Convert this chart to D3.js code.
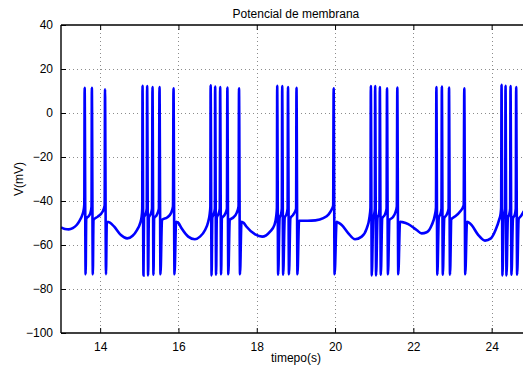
<!DOCTYPE html>
<html>
<head>
<meta charset="utf-8">
<script src="https://cdn.jsdelivr.net/npm/d3@7"></script>
<style>
  html, body { margin: 0; padding: 0; background: #fff; }
  svg { display: block; }
  text { font-family: "Liberation Sans", Arial, Helvetica, sans-serif; fill: #000; }
</style>
</head>
<body>
<svg id="chart" width="523" height="369"></svg>
<script>
// Membrane potential trace (mV) against time (s)

// Spike peak times (s), peak voltage and trough voltage (mV)
const spikeTimes = [
  13.604, 13.788, 14.124,
  15.082, 15.200, 15.337, 15.516, 15.874,
  16.822, 16.937, 17.065, 17.249, 17.547,
  18.522, 18.650, 18.798, 19.015,
  19.964,
  20.914, 21.024, 21.144, 21.327, 21.590,
  22.588, 22.728, 22.911, 23.301,
  24.252, 24.354, 24.482, 24.626
];
const spikePeaks = [
  11.5, 11.5, 10.8,
  12.4, 12.2, 11.8, 11.8, 11.2,
  12.6, 12.0, 11.8, 11.6, 11.2,
  12.4, 12.2, 11.8, 11.4,
  11.2,
  12.2, 12.2, 11.8, 11.2, 11.6,
  11.8, 12.0, 11.6, 11.2,
  12.8, 12.4, 12.2, 11.8
];
const spikeTroughs = [
  -73.3, -73.3, -73.3,
  -73.8, -73.8, -73.5, -73.3, -73.3,
  -73.8, -73.5, -73.3, -73.3, -73.3,
  -73.5, -73.5, -73.3, -73.3,
  -73.3,
  -73.8, -73.8, -73.5, -73.3, -73.3,
  -73.5, -73.5, -73.5, -73.3,
  -73.8, -73.8, -73.5, -73.5
];

// Subthreshold voltage between spikes: [time (s), V (mV)]
const subthreshold = [
  [13.00, -52.0], [13.10, -52.7], [13.20, -52.9], [13.30, -52.3], [13.40, -50.9],
  [13.48, -48.8], [13.54, -46.5], [13.58, -44.0], [13.595, -41.5],
  [13.645, -48.0], [13.70, -47.0], [13.75, -45.5], [13.78, -42.5],
  [13.83, -48.6], [13.94, -47.1], [14.06, -44.9], [14.115, -42.0],
  [14.17, -49.4], [14.25, -49.8], [14.36, -51.7], [14.53, -55.5], [14.69, -57.0],
  [14.83, -55.8], [14.94, -53.2], [15.02, -50.2], [15.06, -47.0], [15.075, -43.5],
  [15.12, -47.5], [15.16, -46.0], [15.19, -43.5],
  [15.245, -47.5], [15.29, -46.0], [15.325, -43.5],
  [15.38, -47.8], [15.44, -46.5], [15.50, -43.5],
  [15.58, -48.6], [15.71, -47.5], [15.81, -45.5], [15.86, -42.5],
  [15.94, -49.4], [16.00, -50.0], [16.08, -52.4], [16.25, -56.2], [16.42, -57.4],
  [16.55, -56.2], [16.68, -53.2], [16.76, -49.4], [16.80, -45.6], [16.815, -42.5],
  [16.865, -47.5], [16.90, -46.0], [16.93, -43.5],
  [16.98, -47.5], [17.02, -46.0], [17.055, -43.5],
  [17.11, -47.8], [17.18, -46.3], [17.238, -43.5],
  [17.31, -48.6], [17.40, -47.5], [17.49, -45.3], [17.535, -42.5],
  [17.61, -49.4], [17.67, -50.0], [17.74, -51.7], [17.96, -55.2], [18.14, -56.2],
  [18.34, -53.9], [18.45, -51.0], [18.50, -46.5], [18.515, -43.0],
  [18.585, -47.5], [18.62, -46.0], [18.64, -43.5],
  [18.715, -47.5], [18.76, -46.0], [18.788, -43.5],
  [18.86, -47.8], [18.93, -46.3], [19.005, -43.5],
  [19.08, -49.0], [19.30, -49.0], [19.50, -48.8], [19.70, -47.8], [19.83, -46.2],
  [19.91, -44.0], [19.952, -42.0],
  [20.04, -49.4], [20.08, -49.8], [20.17, -50.9], [20.34, -54.7], [20.51, -57.4],
  [20.68, -56.2], [20.81, -52.4], [20.875, -47.9], [20.905, -43.0],
  [20.975, -47.5], [21.00, -46.0], [21.016, -43.5],
  [21.085, -47.5], [21.12, -46.0], [21.135, -43.5],
  [21.205, -47.8], [21.27, -46.3], [21.316, -43.5],
  [21.39, -48.6], [21.47, -47.5], [21.545, -45.0], [21.578, -42.5],
  [21.66, -49.4], [21.72, -49.6], [21.87, -50.5], [22.085, -53.2], [22.21, -54.7],
  [22.34, -54.2], [22.47, -50.9], [22.55, -46.4], [22.578, -43.0],
  [22.65, -47.5], [22.69, -46.0], [22.718, -43.5],
  [22.79, -47.8], [22.85, -46.3], [22.90, -43.5],
  [22.97, -48.3], [23.06, -47.1], [23.19, -44.9], [23.285, -42.0],
  [23.37, -49.4], [23.42, -49.8], [23.49, -51.0], [23.66, -55.5], [23.83, -58.0],
  [23.98, -57.0], [24.10, -53.2], [24.19, -48.6], [24.23, -45.6], [24.243, -43.0],
  [24.305, -47.5], [24.33, -45.5], [24.346, -43.5],
  [24.415, -47.5], [24.45, -46.0], [24.472, -43.5],
  [24.545, -47.8], [24.59, -46.3], [24.616, -43.5],
  [24.69, -48.2], [24.75, -46.8], [24.82, -44.8], [24.90, -42.5]
];

const xTicks = [14, 16, 18, 20, 22, 24];
const yTicks = [-100, -80, -60, -40, -20, 0, 20, 40];

const titleText = "Potencial de membrana";
const xLabelText = "timepo(s)";
const yLabelText = "V(mV)";

// ---- layout ----
const plotLeft = 61, plotTop = 25, plotBottom = 333;
const pxPerSecond = 39.15;
const xMin = 13, xMax = 25;
const plotRight = plotLeft + (xMax - xMin) * pxPerSecond;
const SPIKE_FALL = 0.025; // time from spike peak to its trough (s)

const svg = d3.select("#chart");

const x = d3.scaleLinear().domain([xMin, xMax]).range([plotLeft, plotRight]);
const y = d3.scaleLinear().domain([-100, 40]).range([plotBottom, plotTop]);

// grid (dotted)
const grid = svg.append("g").attr("stroke", "#8c8c8c").attr("stroke-width", 1)
  .attr("stroke-dasharray", "1,3");
grid.selectAll("line.gx").data(xTicks).join("line")
  .attr("x1", d => Math.round(x(d)) + 0.5).attr("x2", d => Math.round(x(d)) + 0.5)
  .attr("y1", plotTop).attr("y2", plotBottom);
grid.selectAll("line.gy").data(yTicks.filter(d => d > -100 && d < 40)).join("line")
  .attr("y1", d => Math.round(y(d)) + 0.5).attr("y2", d => Math.round(y(d)) + 0.5)
  .attr("x1", plotLeft).attr("x2", plotRight);

// trace: merge the subthreshold samples with each spike's peak and trough
const points = subthreshold.map(([t, v]) => ({ t, v }));
spikeTimes.forEach((t, i) => {
  points.push({ t, v: spikePeaks[i] });
  points.push({ t: t + SPIKE_FALL, v: spikeTroughs[i] });
});
points.sort((a, b) => a.t - b.t);

svg.append("clipPath").attr("id", "plot-clip")
  .append("rect").attr("x", plotLeft).attr("y", plotTop)
  .attr("width", plotRight - plotLeft).attr("height", plotBottom - plotTop);

const line = d3.line().x(d => x(d.t)).y(d => y(d.v)).curve(d3.curveMonotoneX);
svg.append("path")
  .datum(points)
  .attr("clip-path", "url(#plot-clip)")
  .attr("fill", "none")
  .attr("stroke", "#0000ff")
  .attr("stroke-width", 2.6)
  .attr("d", line);

// axes (box with inward ticks)
const tickLen = 5;
const xAxisBottom = d3.axisBottom(x).tickValues(xTicks).tickSize(-tickLen).tickPadding(9)
  .tickFormat(d3.format("d"));
const xAxisTop = d3.axisTop(x).tickValues(xTicks).tickSize(-tickLen).tickFormat("");
const yAxisLeft = d3.axisLeft(y).tickValues(yTicks).tickSize(-tickLen).tickPadding(8)
  .tickFormat(d => d < 0 ? "\u2212" + Math.abs(d) : String(d));

function styleAxis(g) {
  g.select(".domain").remove();
  g.selectAll(".tick line").attr("stroke", "#000");
  g.selectAll(".tick text").attr("font-size", 12)
    .attr("font-family", "'Liberation Sans', Arial, sans-serif").attr("fill", "#000");
}

svg.append("g").attr("transform", `translate(0,${plotBottom})`).call(xAxisBottom).call(styleAxis);
svg.append("g").attr("transform", `translate(0,${plotTop})`).call(xAxisTop).call(styleAxis);
svg.append("g").attr("transform", `translate(${plotLeft},0)`).call(yAxisLeft).call(styleAxis);

// box lines
const box = svg.append("g").attr("stroke", "#000").attr("stroke-width", 1.4).attr("fill", "none");
box.append("line").attr("x1", plotLeft).attr("x2", plotLeft).attr("y1", plotTop).attr("y2", plotBottom);
box.append("line").attr("x1", plotLeft).attr("x2", plotRight).attr("y1", plotBottom).attr("y2", plotBottom);
box.append("line").attr("x1", plotLeft).attr("x2", plotRight).attr("y1", plotTop).attr("y2", plotTop);
box.append("line").attr("x1", plotRight).attr("x2", plotRight).attr("y1", plotTop).attr("y2", plotBottom);

// labels
svg.append("text").attr("x", (plotLeft + plotRight) / 2).attr("y", 17.5)
  .attr("text-anchor", "middle").attr("font-size", 12).text(titleText);
svg.append("text").attr("x", (plotLeft + plotRight) / 2).attr("y", 362)
  .attr("text-anchor", "middle").attr("font-size", 12).text(xLabelText);
svg.append("text").attr("transform", `translate(23,${(plotTop + plotBottom) / 2}) rotate(-90)`)
  .attr("text-anchor", "middle").attr("font-size", 12).text(yLabelText);
</script>
</body>
</html>
